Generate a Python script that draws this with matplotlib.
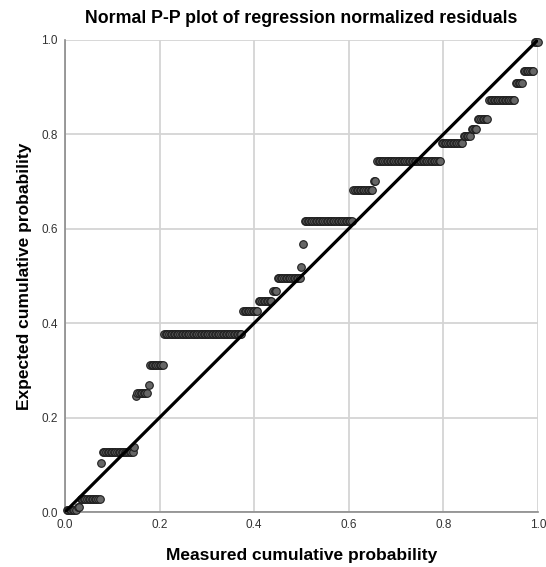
import numpy as np
import matplotlib
matplotlib.use('Agg')
import matplotlib.pyplot as plt

plt.rcParams['font.family'] = ['Liberation Sans', 'DejaVu Sans']

#expected cumulative probability of each run of tied points
run_expected = [0.004, 0.011, 0.028, 0.103, 0.127, 0.137, 0.246, 0.252, 0.269, 0.311,
                0.377, 0.426, 0.447, 0.468, 0.496, 0.519, 0.568, 0.617, 0.682, 0.701,
                0.744, 0.782, 0.797, 0.811, 0.833, 0.873, 0.909, 0.934, 0.996]
#number of cases in each run
run_counts = [7, 2, 13, 1, 20, 1, 1, 7, 1, 9,
              50, 10, 9, 3, 15, 1, 1, 31, 13, 2,
              41, 14, 5, 4, 7, 17, 5, 7, 3]
ticks = [0.0, 0.2, 0.4, 0.6, 0.8, 1.0]
tick_labels = ['0.0', '0.2', '0.4', '0.6', '0.8', '1.0']

#measured cumulative probability = rank / n
n = sum(run_counts)
measured = np.arange(1, n + 1) / n
expected = np.repeat(run_expected, run_counts)

fig = plt.figure(figsize=(5.46, 5.67), dpi=100)
ax = fig.add_axes([0.119, 0.097, 0.866, 0.8325])

ax.grid(True, color='#d4d4d4', linewidth=1.3)
ax.set_axisbelow(True)
ax.scatter(measured, expected, s=30, facecolor='#666666', edgecolor='#1e1e1e',
           linewidth=0.8, zorder=3, clip_on=False)
ax.plot([0, 1], [0, 1], color='black', linewidth=2.3, zorder=4)

ax.set_xlim(0, 1)
ax.set_ylim(0, 1)
ax.set_xticks(ticks)
ax.set_xticklabels(tick_labels)
ax.set_yticks(ticks)
ax.set_yticklabels(tick_labels)
ax.tick_params(length=0, labelsize=8.5, pad=5, colors='#333333')
for side in ['top', 'right']:
    ax.spines[side].set_visible(False)
for side in ['left', 'bottom']:
    ax.spines[side].set_color('#8a8a8a')
    ax.spines[side].set_linewidth(1.2)

ax.set_title('Normal P-P plot of regression normalized residuals', fontsize=12.8,
             fontweight='bold', pad=12)
ax.set_xlabel('Measured cumulative probability', fontsize=12.5, fontweight='bold', labelpad=12)
ax.set_ylabel('Expected cumulative probability', fontsize=12.5, fontweight='bold', labelpad=7)

fig.savefig('out.png', dpi=100)
